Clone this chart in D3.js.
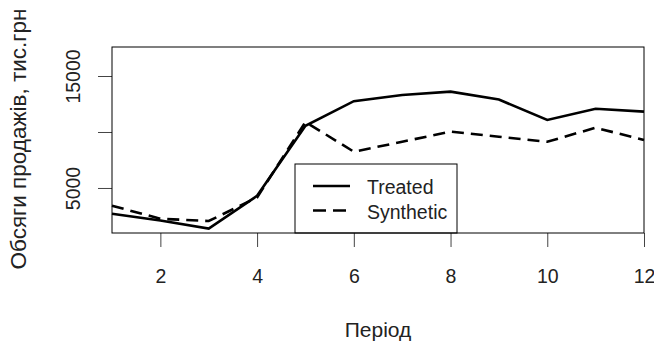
<!DOCTYPE html>
<html>
<head>
<meta charset="utf-8">
<script src="https://cdn.jsdelivr.net/npm/d3@7"></script>
<style>
  body { margin: 0; background: #fff; }
  text { font-family: "Liberation Sans", Arial, sans-serif; fill: #222; }
</style>
</head>
<body>
<svg id="chart" width="654" height="344"></svg>
<script>
const periods = [1, 2, 3, 4, 5, 6, 7, 8, 9, 10, 11, 12];
const treated = [2700, 2100, 1380, 4300, 10550, 12750, 13300, 13600, 12900, 11070, 12080, 11820];
const synthetic = [3420, 2250, 2050, 4150, 10900, 8240, 9130, 10030, 9580, 9130, 10380, 9280];
const xTicks = [2, 4, 6, 8, 10, 12];
const yTicks = [5000, 10000, 15000];
const yLabelled = [5000, 15000];
const seriesNames = ["Treated", "Synthetic"];

const svg = d3.select("#chart");
const box = { left: 112, right: 644, top: 47, bottom: 233 };

const x = d3.scaleLinear().domain([1, 12]).range([box.left, box.right]);
const y = d3.scaleLinear().domain([980, 17590]).range([box.bottom, box.top]);

// x axis
const xAxis = svg.append("g")
  .attr("transform", "translate(0," + box.bottom + ")")
  .call(d3.axisBottom(x).tickValues(xTicks).tickSize(14).tickFormat(d3.format("d")));
xAxis.select(".domain").remove();
xAxis.selectAll("line").attr("stroke", "#444").attr("stroke-width", 1);
xAxis.selectAll("text").style("font-size", "19.5px").attr("fill", "#222")
  .attr("y", 50).attr("dy", 0);

// y axis, rotated labels; R drops the middle label
const yAxis = svg.append("g")
  .attr("transform", "translate(" + box.left + ",0)")
  .call(d3.axisLeft(y).tickValues(yTicks).tickSize(14)
    .tickFormat(d => yLabelled.includes(d) ? d3.format("d")(d) : ""));
yAxis.select(".domain").remove();
yAxis.selectAll("line").attr("stroke", "#444").attr("stroke-width", 1);
yAxis.selectAll("text")
  .style("font-size", "19.5px")
  .attr("fill", "#222")
  .attr("text-anchor", "middle")
  .attr("x", 0).attr("y", 0).attr("dy", 0)
  .attr("transform", "translate(-32,0) rotate(-90)");

// lines
const line = d3.line().x((d, i) => x(periods[i])).y(d => y(d));
const plot = svg.append("g");
plot.append("path").datum(treated)
  .attr("d", line).attr("fill", "none").attr("stroke", "#000").attr("stroke-width", 2.6);
plot.append("path").datum(synthetic)
  .attr("d", line).attr("fill", "none").attr("stroke", "#000").attr("stroke-width", 2.6)
  .attr("stroke-dasharray", "12,7");

// legend
const legend = svg.append("g");
legend.append("rect")
  .attr("x", 295).attr("y", 164).attr("width", 162).attr("height", box.bottom - 164)
  .attr("fill", "#fff").attr("stroke", "#000").attr("stroke-width", 1);
seriesNames.forEach((name, i) => {
  const ly = 186 + i * 24.5;
  legend.append("line")
    .attr("x1", 313).attr("x2", 350).attr("y1", ly).attr("y2", ly)
    .attr("stroke", "#000").attr("stroke-width", 2.6)
    .attr("stroke-dasharray", i === 1 ? "13,7" : null);
  legend.append("text").attr("x", 367).attr("y", ly + 8).style("font-size", "19.5px").text(name);
});

// box
svg.append("rect")
  .attr("x", box.left).attr("y", box.top)
  .attr("width", box.right - box.left).attr("height", box.bottom - box.top)
  .attr("fill", "none").attr("stroke", "#000").attr("stroke-width", 1);

// axis titles
svg.append("text")
  .attr("x", (box.left + box.right) / 2).attr("y", 337)
  .attr("text-anchor", "middle").style("font-size", "21px").text("Період");
svg.append("text")
  .attr("transform", "translate(26,139) rotate(-90)")
  .attr("text-anchor", "middle").style("font-size", "22.5px")
  .text("Обсяги продажів, тис.грн");
</script>
</body>
</html>
